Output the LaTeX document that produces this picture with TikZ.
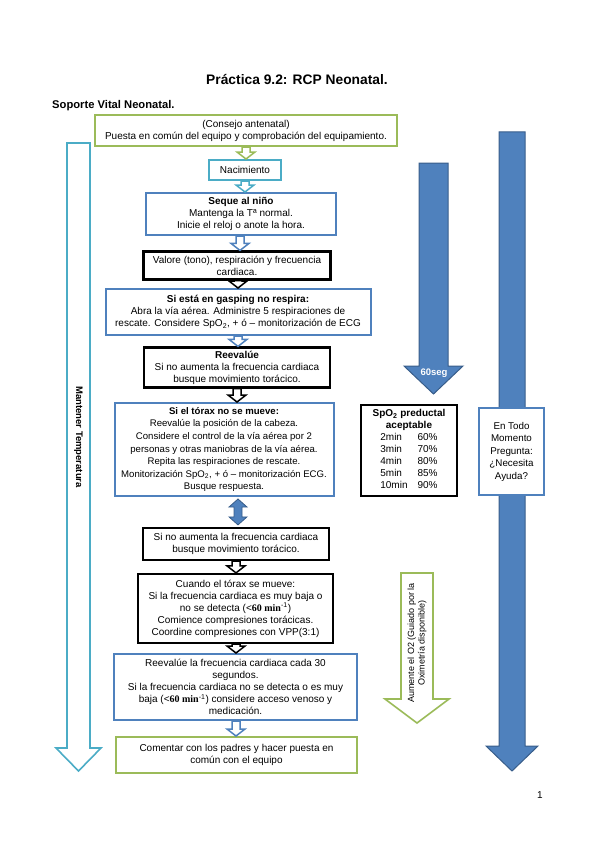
\documentclass[tikz,border=0pt]{standalone}
\usepackage{fontspec}
\setmainfont{Liberation Sans}
\newfontfamily\serifbf{Liberation Serif}
\usetikzlibrary{calc}
\definecolor{cgreen}{HTML}{9BBB59}
\definecolor{ccyan}{HTML}{4BACC6}
\definecolor{cblue}{HTML}{4F81BD}
\definecolor{cbluedark}{HTML}{385D8A}
\newcommand\boxfont{\fontsize{10}{12}\selectfont}
\newcommand\hollowarr[4]{%
  \draw[#4, line width=1.5pt, fill=white, line join=miter]
   let \p1=(#2.south), \p2=(#3.north) in
   (#1pt-4pt,\y1) -- (#1pt+4pt,\y1) -- (#1pt+4pt,\y2+7pt) -- (#1pt+9pt,\y2+7pt)
   -- (#1pt,\y2) -- (#1pt-9pt,\y2+7pt) -- (#1pt-4pt,\y2+7pt) -- cycle;}
\tikzset{
  box/.style={draw=#1, line width=2pt, fill=white, align=center, inner sep=0pt, font=\boxfont},
  kbox/.style={draw=black, line width=2.2pt, fill=white, align=center, inner sep=0pt, font=\boxfont},
  bigfill/.style={draw=cbluedark, line width=1pt, fill=cblue, line join=miter},
  bighollow/.style={draw=#1, line width=1.6pt, fill=white, line join=miter}
}
\begin{document}
\begin{tikzpicture}[x=1pt,y=-1pt]
\useasboundingbox (0,0) rectangle (599,848);

% titles
\node[font=\fontsize{13.8}{16}\selectfont\bfseries] (title) at (297,80) {Práctica 9.2: RCP Neonatal.};
\node[font=\fontsize{11.2}{13}\selectfont\bfseries, anchor=west, inner sep=0pt] (sub) at (52,106) {Soporte Vital Neonatal.};
\node[font=\fontsize{10}{12}\selectfont] (page) at (540,795) {1};

% big side arrows
\draw[bighollow=ccyan] (67,143) -- (90,143) -- (90,748) -- (101,748) -- (78.5,771) -- (56,748) -- (67,748) -- cycle;
\node[font=\fontsize{9.5}{11}\selectfont\bfseries, rotate=-90] (temp) at (78.5,437) {Mantener Temperatura};

\draw[bigfill] (419,163) -- (448,163) -- (448,366) -- (463,366) -- (433.5,394) -- (404,366) -- (419,366) -- cycle;
\node[font=\fontsize{9.5}{11}\selectfont\bfseries, text=white] (seg) at (434,373) {60seg};

\draw[bigfill] (499,132) -- (525,132) -- (525,746) -- (538,746) -- (512,771) -- (486,746) -- (499,746) -- cycle;

\draw[bighollow=cgreen] (401,573) -- (433,573) -- (433,699) -- (449,699) -- (417,723) -- (385,699) -- (401,699) -- cycle;
\node[font=\fontsize{9}{10.5}\selectfont, rotate=90, align=center] (o2) at (417,643) {Aumente el O2 (Guiado por la\\Oximetría disponible)};

% flow boxes
\node[box=cgreen, minimum width=302pt, minimum height=31pt] (antenatal) at (246,130.5)
  {(Consejo antenatal)\\Puesta en común del equipo y comprobación del equipamiento.};
\node[box=ccyan, minimum width=72pt, minimum height=20pt] (nac) at (245,170) {Nacimiento};
\node[box=cblue, minimum width=190pt, minimum height=42pt] (seque) at (241,214)
  {\textbf{Seque al niño}\\Mantenga la Tª normal.\\Inicie el reloj o anote la hora.};
\node[kbox, minimum width=187pt, minimum height=28pt] (valore) at (237,265.5)
  {Valore (tono), respiración y frecuencia\\cardiaca.};
\node[box=cblue, minimum width=265pt, minimum height=46pt] (gasp) at (238,312)
  {\textbf{Si está en gasping no respira:}\\Abra la vía aérea. Administre 5 respiraciones de\\rescate. Considere SpO\textsubscript{2}, + ó – monitorización de ECG};
\node[kbox, minimum width=186pt, minimum height=40pt] (reev) at (237,367.5)
  {\textbf{Reevalúe}\\Si no aumenta la frecuencia cardiaca\\busque movimiento torácico.};
\node[box=cblue, minimum width=219pt, minimum height=93pt, font=\fontsize{9.6}{12.6}\selectfont] (torax) at (224,449.5)
  {\textbf{Si el tórax no se mueve:}\\Reevalúe la posición de la cabeza.\\Considere el control de la vía aérea por 2\\personas y otras maniobras de la vía aérea.\\Repita las respiraciones de rescate.\\Monitorización SpO\textsubscript{2}, + ó – monitorización ECG.\\Busque respuesta.};
\node[kbox, minimum width=186pt, minimum height=32pt] (noaum) at (236,544)
  {Si no aumenta la frecuencia cardiaca\\busque movimiento torácico.};
\node[kbox, minimum width=195pt, minimum height=69pt] (cuando) at (235.5,608.5)
  {Cuando el tórax se mueve:\\Si la frecuencia cardiaca es muy baja o\\no se detecta (<{\serifbf\bfseries 60 min}\textsuperscript{-1})\\Comience compresiones torácicas.\\Coordine compresiones con VPP(3:1)};
\node[box=cblue, minimum width=243pt, minimum height=66pt] (reevfc) at (235.5,687)
  {Reevalúe la frecuencia cardiaca cada 30\\segundos.\\Si la frecuencia cardiaca no se detecta o es muy\\baja (<{\serifbf\bfseries 60 min}\textsuperscript{-1}) considere acceso venoso y\\medicación.};
\node[box=cgreen, minimum width=241pt, minimum height=36pt] (coment) at (236.5,755)
  {Comentar con los padres y hacer puesta en\\común con el equipo};

% side boxes
\node[kbox, minimum width=96pt, minimum height=91pt, font=\fontsize{10}{12}\selectfont] (spo) at (409,450.5)
  {\textbf{SpO\textsubscript{2} preductal}\\\textbf{aceptable}\\
   \begin{tabular}{@{}l@{\hspace{10pt}}l@{}}2min & 60\%\\3min & 70\%\\4min & 80\%\\5min & 85\%\\10min & 90\%\end{tabular}};
\node[box=cblue, line width=1.6pt, minimum width=65pt, minimum height=87pt, font=\fontsize{9.8}{12.5}\selectfont] (ayuda) at (511.5,451.5)
  {En Todo\\Momento\\Pregunta:\\¿Necesita\\Ayuda?};

% connectors
\hollowarr{246}{antenatal}{nac}{cgreen}
\hollowarr{245}{nac}{seque}{ccyan}
\hollowarr{240}{seque}{valore}{cblue}
\hollowarr{238}{valore}{gasp}{black}
\hollowarr{238}{gasp}{reev}{cblue}
\hollowarr{237}{reev}{torax}{black}
\draw[bigfill, line width=0.8pt] let \p1=(torax.south), \p2=(noaum.north) in
  (238pt,\y1-2pt) -- (247pt,\y1-10pt) -- (242pt,\y1-10pt) -- (242pt,\y2+10pt) -- (247pt,\y2+10pt)
  -- (238pt,\y2+2pt) -- (229pt,\y2+10pt) -- (234pt,\y2+10pt) -- (234pt,\y1-10pt) -- (229pt,\y1-10pt) -- cycle;
\hollowarr{236}{noaum}{cuando}{black}
\hollowarr{236}{cuando}{reevfc}{black}
\hollowarr{236}{reevfc}{coment}{cblue}
\end{tikzpicture}
\end{document}
